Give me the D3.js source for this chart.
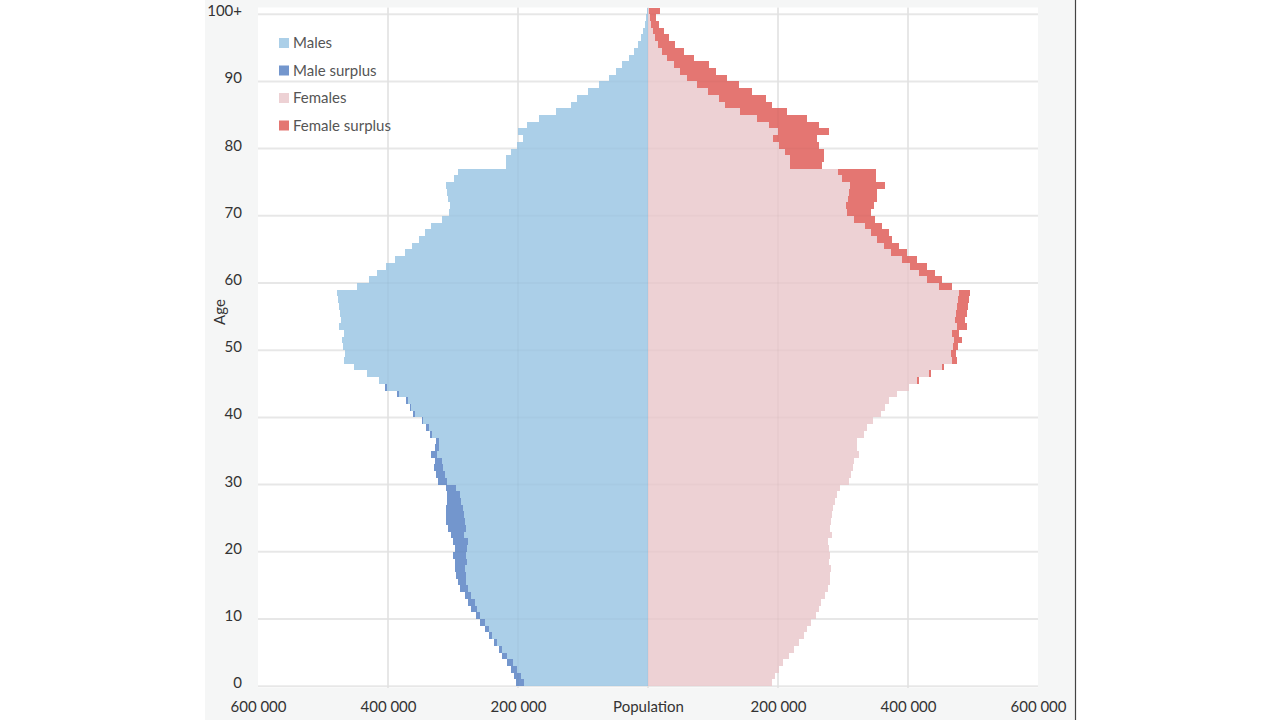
<!DOCTYPE html>
<html>
<head>
<meta charset="utf-8">
<script src="https://cdn.jsdelivr.net/npm/d3@7"></script>
<style>
  html, body { margin: 0; padding: 0; background: #fff; }
  svg { display: block; font-family: Lato, "Open Sans", sans-serif; }
</style>
</head>
<body>
<div id="chart"></div>
<script>
// ages 0..100 (100 = 100+)
const ages = d3.range(0, 101);

const males = [
  202500, 206400, 211500, 216700, 223900, 230000, 236700, 244000, 251300, 258200,
  264600, 271800, 277400, 281500, 288500, 291800, 294800, 296400, 297200, 299800,
  297400, 300500, 302600, 308200, 311500, 310800, 310300, 309500, 310000, 310200,
  323700, 325500, 329300, 328000, 334300, 327200, 326700, 335800, 341500, 347300,
  361000, 366000, 372000, 386000, 404000, 414000, 432000, 452000, 468000, 466000,
  469000, 471000, 468000, 476000, 473000, 474000, 475000, 477000, 479000, 447000,
  429000, 417000, 403000, 390000, 374000, 362500, 353000, 343500, 334500, 317000,
  306000, 304000, 308000, 309000, 311000, 299000, 293000, 219000, 219000, 211500,
  201000, 193000, 200000, 186000, 168000, 142000, 119000, 108500, 92000, 75000,
  60000, 49500, 39500, 29000, 21500, 15800, 10600, 7800, 5000, 3000,
  2000
];

const females = [
  191000, 196000, 201000, 207000, 217000, 224000, 232000, 240000, 245000, 250500,
  258000, 263500, 266700, 272000, 277000, 280000, 280500, 281000, 278000, 279500,
  278500, 277500, 282500, 280500, 281000, 282500, 284500, 287000, 290000, 295500,
  309000, 312300, 315000, 317500, 324200, 322000, 322000, 332500, 337500, 345500,
  358000, 364000, 370000, 383000, 402000, 417000, 436000, 456000, 475000, 474000,
  477000, 483000, 478000, 491000, 488000, 490000, 492000, 494000, 496000, 468000,
  452000, 442000, 429500, 414000, 398700, 385900, 376000, 370000, 360000, 349000,
  343000, 348000, 353000, 353000, 365000, 351000, 350000, 268000, 270500, 270500,
  263000, 260000, 278000, 263000, 245000, 214000, 191000, 181000, 160000, 140000,
  122000, 105000, 93600, 70500, 55000, 42300, 32000, 25000, 17500, 13000,
  18000
];

const ageTicks = [0, 10, 20, 30, 40, 50, 60, 70, 80, 90, 100];
const popTicks = [-600000, -400000, -200000, 0, 200000, 400000, 600000];
const legendItems = ["Males", "Male surplus", "Females", "Female surplus"];
const colors = {
  "Males": "#abcfe8",
  "Male surplus": "#7396cd",
  "Females": "#edd1d4",
  "Female surplus": "#e47672"
};

const W = 1280, H = 720;
const svg = d3.select("#chart").append("svg")
  .attr("width", W)
  .attr("height", H);

// panel background + right border
svg.append("rect")
  .attr("x", 205).attr("y", 0)
  .attr("width", 870).attr("height", H)
  .attr("fill", "#f5f6f6");
svg.append("line")
  .attr("x1", 1075.5).attr("x2", 1075.5)
  .attr("y1", 0).attr("y2", H)
  .attr("stroke", "#444").attr("stroke-width", 1.2);

// scales
const x = d3.scaleLinear().domain([-600000, 600000]).range([258, 1038]);
const y = d3.scaleLinear().domain([0, 101]).range([686.2, 7.5]);

// plot area
svg.append("rect")
  .attr("x", x(-600000)).attr("y", y(101))
  .attr("width", x(600000) - x(-600000))
  .attr("height", 688 - y(101))
  .attr("fill", "#fff");

function drawGrid(g, stroke) {
  g.selectAll("line.h")
    .data(ageTicks)
    .enter().append("line")
    .attr("x1", x(-600000)).attr("x2", x(600000))
    .attr("y1", d => y(d)).attr("y2", d => y(d))
    .attr("stroke", stroke).attr("stroke-width", 2);
  g.selectAll("line.v")
    .data(popTicks.filter(d => Math.abs(d) < 600000))
    .enter().append("line")
    .attr("x1", d => x(d)).attr("x2", d => x(d))
    .attr("y1", y(101)).attr("y2", 688)
    .attr("stroke", stroke).attr("stroke-width", 2);
}
drawGrid(svg.append("g"), "#ececec");

// bars
const rows = ages.map((a, i) => ({ age: a, m: males[i], f: females[i] }));
const bars = svg.append("g").attr("shape-rendering", "crispEdges");
const bh = d => y(d.age) - y(d.age + 1);

// males base (up to the smaller of the two)
bars.selectAll("rect.m")
  .data(rows).enter().append("rect")
  .attr("x", d => x(-Math.min(d.m, d.f)))
  .attr("y", d => y(d.age + 1))
  .attr("width", d => x(0) - x(-Math.min(d.m, d.f)))
  .attr("height", d => bh(d))
  .attr("fill", colors["Males"]);

bars.selectAll("rect.ms")
  .data(rows.filter(d => d.m > d.f)).enter().append("rect")
  .attr("x", d => x(-d.m))
  .attr("y", d => y(d.age + 1))
  .attr("width", d => x(-d.f) - x(-d.m))
  .attr("height", d => bh(d))
  .attr("fill", colors["Male surplus"]);

bars.selectAll("rect.f")
  .data(rows).enter().append("rect")
  .attr("x", x(0))
  .attr("y", d => y(d.age + 1))
  .attr("width", d => x(Math.min(d.m, d.f)) - x(0))
  .attr("height", d => bh(d))
  .attr("fill", colors["Females"]);

bars.selectAll("rect.fs")
  .data(rows.filter(d => d.f > d.m)).enter().append("rect")
  .attr("x", d => x(d.m))
  .attr("y", d => y(d.age + 1))
  .attr("width", d => x(d.f) - x(d.m))
  .attr("height", d => bh(d))
  .attr("fill", colors["Female surplus"]);

// faint grid showing through bars
drawGrid(svg.append("g"), "rgba(0,0,0,0.018)");

// y axis labels
const yAxis = svg.append("g")
  .attr("transform", "translate(250,0)")
  .call(d3.axisLeft(y).tickValues(ageTicks).tickSize(0).tickPadding(8)
    .tickFormat(d => d === 100 ? "100+" : d));
yAxis.select(".domain").remove();
yAxis.selectAll("text")
  .attr("font-family", "Lato")
  .attr("font-size", 15)
  .attr("fill", "#333")
  .attr("dy", "0.1em");

// x axis labels
const fmt = d3.formatLocale({ decimal: ".", thousands: " ", grouping: [3], currency: ["", ""] }).format(",");
const xAxis = svg.append("g")
  .attr("transform", "translate(0,696)")
  .call(d3.axisBottom(x).tickValues(popTicks).tickSize(0).tickPadding(5)
    .tickFormat(d => d === 0 ? "Population" : fmt(Math.abs(d))));
xAxis.select(".domain").remove();
xAxis.selectAll("text")
  .attr("font-family", "Lato")
  .attr("font-size", 15)
  .attr("fill", "#333");

// y title
svg.append("text")
  .attr("transform", "translate(225,312) rotate(-90)")
  .attr("text-anchor", "middle")
  .attr("font-size", 15)
  .attr("fill", "#333")
  .text("Age");

// legend
const leg = svg.append("g").attr("transform", "translate(279,43)");
const li = leg.selectAll("g").data(legendItems).enter().append("g")
  .attr("transform", (d, i) => `translate(0,${i * 27.5})`);
li.append("rect")
  .attr("x", 0).attr("y", -5)
  .attr("width", 10).attr("height", 10)
  .attr("fill", d => colors[d]);
li.append("text")
  .attr("x", 14).attr("y", 0)
  .attr("dy", "0.35em")
  .attr("font-size", 15)
  .attr("fill", "#555")
  .text(d => d);
</script>
</body>
</html>
